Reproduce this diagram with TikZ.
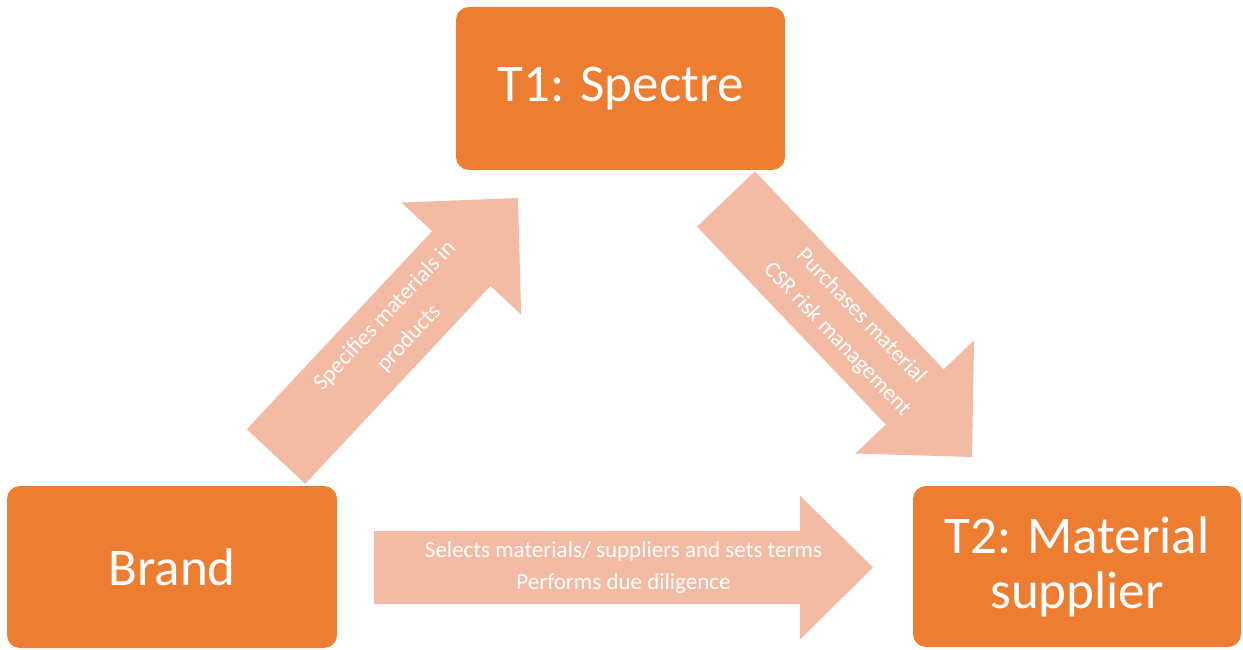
\documentclass[tikz,border=0pt]{standalone}
\usepackage{fontspec}
\setmainfont{Carlito}
\usetikzlibrary{calc}
\definecolor{boxorange}{RGB}{237,125,49}
\definecolor{arrowpink}{RGB}{244,187,164}
% #1 tail coordinate, #2 tip coordinate, #3 half shaft width, #4 half head width, #5 head length
\newcommand\blockarrow[5]{%
  \coordinate (#1h) at ($(#2)!#5!(#1)$);
  \fill[arrowfill] ($(#1)!#3!90:(#2)$) -- ($(#1h)!#3!90:(#2)$) -- ($(#1h)!#4!90:(#2)$)
    -- (#2) -- ($(#1h)!#4!-90:(#2)$) -- ($(#1h)!#3!-90:(#2)$) -- ($(#1)!#3!-90:(#2)$) -- cycle;
}
\tikzset{
  arrowfill/.style={fill=arrowpink},
  arrowtext/.style={text=white, font=\fontsize{23}{33}\selectfont, align=center, inner sep=0pt},
  actor/.style={rounded corners=13pt, fill=boxorange, text=white, inner sep=0pt,
    align=center, font=\fontsize{53}{55}\selectfont}
}
\begin{document}
\begin{tikzpicture}[x=1pt,y=-1pt]
\useasboundingbox (0,0) rectangle (1243,650);
% arrow end points
\coordinate (a1t) at (276,456.5);
\coordinate (a1e) at (518,198);
\coordinate (a2t) at (726,199);
\coordinate (a2e) at (972,457);
\coordinate (a3t) at (374,567.5);
\coordinate (a3e) at (873,567.5);
% block arrows
\blockarrow{a1t}{a1e}{40pt}{82pt}{83pt}
\blockarrow{a2t}{a2e}{40pt}{82pt}{83pt}
\blockarrow{a3t}{a3e}{36.5pt}{72pt}{73pt}
\node[arrowtext, rotate=46.9] (a1txt) at ($(a1t)!0.5!(a1e)$) {Specifies materials in\\products};
\node[arrowtext, rotate=-46.4] (a2txt) at ($(a2t)!0.5!(a2e)$) {Purchases material\\CSR risk management};
\node[arrowtext, font=\fontsize{23}{32}\selectfont] (a3txt) at ($(a3t)!0.5!(a3e)$) {Selects materials/ suppliers and sets terms\\Performs due diligence};
% actors
\node[actor, minimum width=329pt, minimum height=163pt] (t1) at (620.5,88.5) {T1: Spectre};
\node[actor, minimum width=330pt, minimum height=162pt] (brand) at (172,567) {Brand};
\node[actor, minimum width=328pt, minimum height=161pt] (t2) at (1077,566.5) {T2: Material\\supplier};
\end{tikzpicture}
\end{document}
